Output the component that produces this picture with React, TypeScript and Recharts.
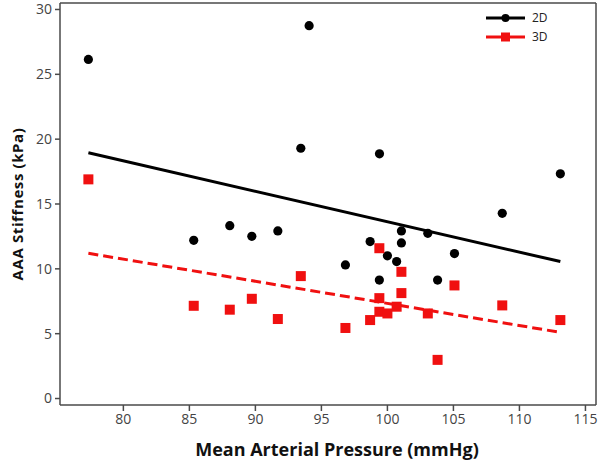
import React from 'react';
import {
  ComposedChart, Scatter, XAxis, YAxis, ReferenceLine,
} from 'recharts';

// mean arterial pressure (mmHg) and stiffness (kPa)
const map2D = [77.35, 94.07, 93.44, 99.4, 113.1, 108.7, 85.33, 88.06, 89.73, 91.7, 96.82, 98.69, 99.39, 100.0, 100.7, 101.06, 101.06, 103.06, 103.8, 105.08];
const stiff2D = [26.15, 28.75, 19.3, 18.87, 17.33, 14.28, 12.2, 13.33, 12.51, 12.92, 10.3, 12.1, 9.13, 11.0, 10.56, 12.92, 12.0, 12.74, 9.13, 11.18];

const map3D = [77.35, 85.33, 88.06, 89.73, 91.7, 93.44, 96.82, 98.69, 99.39, 99.39, 99.39, 100.0, 100.7, 101.06, 101.06, 103.06, 103.8, 105.08, 108.7, 113.1];
const stiff3D = [16.9, 7.15, 6.85, 7.69, 6.13, 9.44, 5.44, 6.05, 11.59, 7.74, 6.69, 6.56, 7.08, 9.77, 8.13, 6.56, 2.98, 8.72, 7.18, 6.05];

// fitted line end points
const fitX = [77.35, 113.1];
const fit2D = [18.95, 10.56];
const fit3D = [11.2, 5.1];

const xTicks = [80, 85, 90, 95, 100, 105, 110, 115];
const yTicks = [0, 5, 10, 15, 20, 25, 30];
const xDomain = [75.2, 115.8];
const yDomain = [-0.5, 30.5];

const RED = '#f01010';
const FRAME = '#4a4a4a';

const pts2D = map2D.map((x, i) => ({ x, y: stiff2D[i] }));
const pts3D = map3D.map((x, i) => ({ x, y: stiff3D[i] }));
const line2D = fitX.map((x, i) => ({ x, y: fit2D[i] }));
const line3D = fitX.map((x, i) => ({ x, y: fit3D[i] }));

const Dot = (p: any) => <circle cx={p.cx} cy={p.cy} r={4.6} fill="#000" />;
const Sq = (p: any) => <rect x={p.cx - 5} y={p.cy - 5} width={10} height={10} fill={RED} />;
const Nothing = () => null;

const legendRows = [
  { name: '2D', color: '#000', mark: 'circle' },
  { name: '3D', color: RED, mark: 'square' },
];

function LegendBox() {
  return (
    <svg width={70} height={40} style={{ position: 'absolute', left: 486, top: 10 }}>
      {legendRows.map((r, i) => {
        const y = 8 + i * 19;
        return (
          <g key={r.name}>
            <line x1={0} x2={39} y1={y} y2={y} stroke={r.color} strokeWidth={3} />
            {r.mark === 'circle'
              ? <circle cx={19.5} cy={y} r={4} fill={r.color} />
              : <rect x={15} y={y - 4.5} width={9} height={9} fill={r.color} />}
            <text x={46} y={y + 4} fontSize={12} fill="#222" fontFamily="'Open Sans', sans-serif">{r.name}</text>
          </g>
        );
      })}
    </svg>
  );
}

export default function App() {
  return (
    <div style={{ position: 'absolute', left: 0, top: 0, background: '#fff' }}>
      <ComposedChart width={601} height={464} margin={{ top: 3, right: 5, left: 0, bottom: 0 }}>
        <XAxis
          type="number"
          dataKey="x"
          domain={xDomain}
          ticks={xTicks}
          allowDataOverflow
          stroke={FRAME}
          strokeWidth={1.5}
          tickSize={6}
          tickMargin={3}
          height={59}
          tick={{ fill: '#444', fontSize: 14, fontFamily: "'Open Sans', sans-serif" }}
          label={{
            value: 'Mean Arterial Pressure (mmHg)',
            position: 'insideBottom',
            offset: 8,
            dx: 9,
            style: { fill: '#111', fontSize: 18, fontWeight: 700, fontFamily: "'Open Sans', sans-serif" },
          }}
        />
        <YAxis
          type="number"
          dataKey="y"
          domain={yDomain}
          ticks={yTicks}
          allowDataOverflow
          stroke={FRAME}
          strokeWidth={1.5}
          tickSize={5}
          tickMargin={3}
          width={60}
          tick={{ fill: '#444', fontSize: 14, fontFamily: "'Open Sans', sans-serif" }}
          label={{
            value: 'AAA Stiffness (kPa)',
            angle: -90,
            position: 'insideLeft',
            offset: 18,
            style: { textAnchor: 'middle', fill: '#111', fontSize: 15, fontWeight: 700, letterSpacing: 0.6, fontFamily: "'Open Sans', sans-serif" },
          }}
        />
        <ReferenceLine y={yDomain[1]} stroke={FRAME} strokeWidth={1.5} />
        <ReferenceLine x={xDomain[1]} stroke={FRAME} strokeWidth={1.5} />
        <Scatter name="2D fit" data={line2D} line={{ stroke: '#000', strokeWidth: 3 }} shape={Nothing} isAnimationActive={false} legendType="none" />
        <Scatter name="3D fit" data={line3D} line={{ stroke: RED, strokeWidth: 3, strokeDasharray: '10 5' }} shape={Nothing} isAnimationActive={false} legendType="none" />
        <Scatter name="2D" data={pts2D} shape={Dot} isAnimationActive={false} />
        <Scatter name="3D" data={pts3D} shape={Sq} isAnimationActive={false} />
      </ComposedChart>
      <LegendBox />
    </div>
  );
}
